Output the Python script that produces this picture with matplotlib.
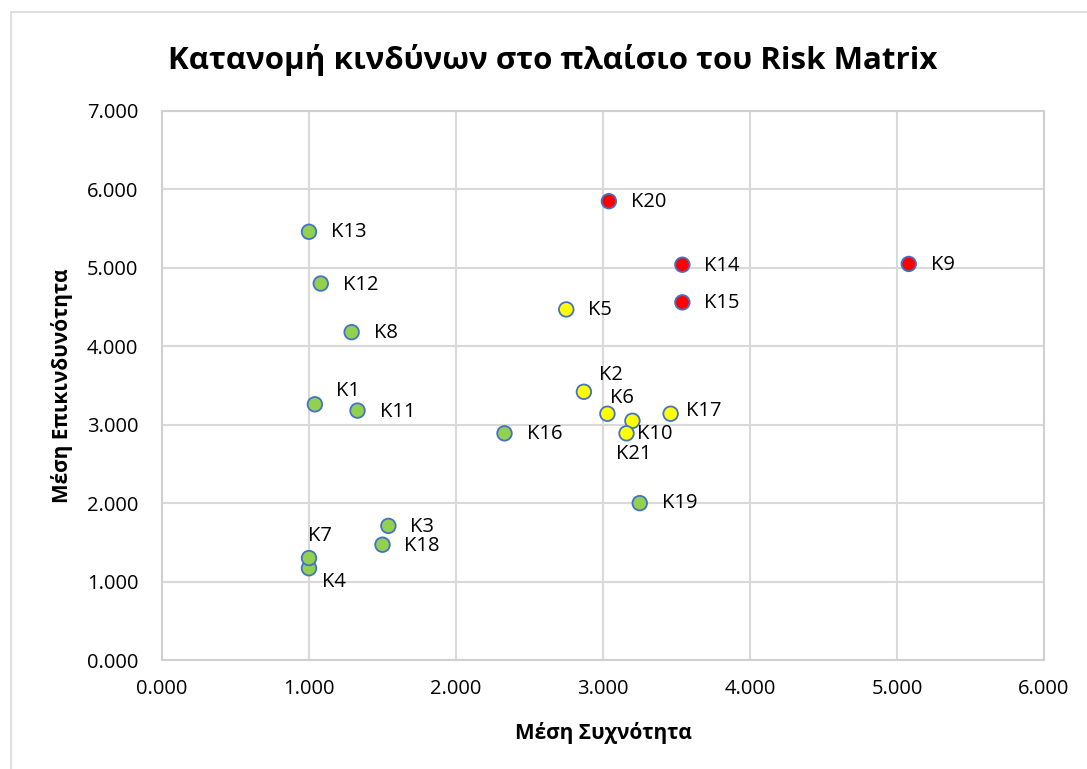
# Risk matrix scatter: mean frequency vs mean severity per risk
import matplotlib
matplotlib.use('Agg')
import matplotlib.pyplot as plt
from matplotlib.patches import Rectangle
from matplotlib.ticker import FormatStrFormatter

plt.rcParams['font.family'] = ['Open Sans', 'DejaVu Sans']

# data
labels = ['K1', 'K2', 'K3', 'K4', 'K5', 'K6', 'K7', 'K8', 'K9', 'K10', 'K11',
          'K12', 'K13', 'K14', 'K15', 'K16', 'K17', 'K18', 'K19', 'K20', 'K21']
freq = [1.04, 2.87, 1.54, 1.00, 2.75, 3.03, 1.00, 1.29, 5.08, 3.20, 1.33,
        1.08, 1.00, 3.54, 3.54, 2.33, 3.46, 1.50, 3.25, 3.04, 3.16]
severity = [3.26, 3.42, 1.71, 1.17, 4.47, 3.14, 1.30, 4.18, 5.05, 3.05, 3.18,
            4.80, 5.46, 5.04, 4.56, 2.89, 3.14, 1.47, 2.00, 5.85, 2.89]
level = ['low', 'mid', 'low', 'low', 'mid', 'mid', 'low', 'low', 'high', 'mid', 'low',
         'low', 'low', 'high', 'high', 'low', 'mid', 'low', 'low', 'high', 'mid']

level_colors = {'low': '#92D050', 'mid': '#FFFF00', 'high': '#FF0000'}

# label placement (pixels from the marker centre), like the dragged Excel labels
default_off = (22, -1)
label_off = {'K1': (21, 13), 'K2': (15, 17), 'K6': (3, 16), 'K10': (5, -13),
             'K17': (15, 3), 'K21': (-11, -21), 'K7': (-1, 22), 'K4': (13, -14),
             'K13': (22, 0), 'K19': (22, 0)}

fig = plt.figure(figsize=(10.87, 7.69), dpi=100)
ax = fig.add_axes([162 / 1087, 1 - 660 / 769, 882 / 1087, 549 / 769])

# outer chart frame (cut off at right and bottom in the reference)
fig.patches.append(Rectangle((11 / 1087, -0.1), 1.2, 1 - 12 / 769 + 0.1,
                             transform=fig.transFigure, fill=False,
                             edgecolor='#D9D9D9', linewidth=1.2))

cols = [level_colors[l] for l in level]
ax.scatter(freq, severity, s=110, c=cols, edgecolors='#4472C4', linewidths=1.3, zorder=3)

for name, x, y in zip(labels, freq, severity):
    dx, dy = label_off.get(name, default_off)
    ax.annotate(name, (x, y), xytext=(dx, dy), textcoords='offset pixels',
                ha='left', va='center', fontsize=14.5, color='#000000', zorder=4)

ax.set_xlim(0, 6)
ax.set_ylim(0, 7)
ax.set_xticks(range(0, 7))
ax.set_yticks(range(0, 8))
ax.xaxis.set_major_formatter(FormatStrFormatter('%.3f'))
ax.yaxis.set_major_formatter(FormatStrFormatter('%.3f'))
ax.grid(True, color='#D9D9D9', linewidth=1.5, zorder=0)
ax.set_axisbelow(True)
for sp in ax.spines.values():
    sp.set_color('#D0D0D0')
    sp.set_linewidth(1.5)
ax.tick_params(length=0, labelsize=14.5, colors='#000000')
ax.tick_params(axis='x', pad=14)
ax.tick_params(axis='y', pad=17)

ax.set_xlabel('Μέση Συχνότητα', fontsize=15, fontweight='bold', labelpad=16)
ax.set_ylabel('Μέση Επικινδυνότητα', fontsize=15, fontweight='bold', labelpad=10)
fig.text(0.5 * (170 + 935) / 1087, 1 - 60 / 769, 'Κατανομή κινδύνων στο πλαίσιο του Risk Matrix',
         ha='center', va='center', fontsize=22.5, fontweight='bold')

fig.savefig('out.png', dpi=100)
